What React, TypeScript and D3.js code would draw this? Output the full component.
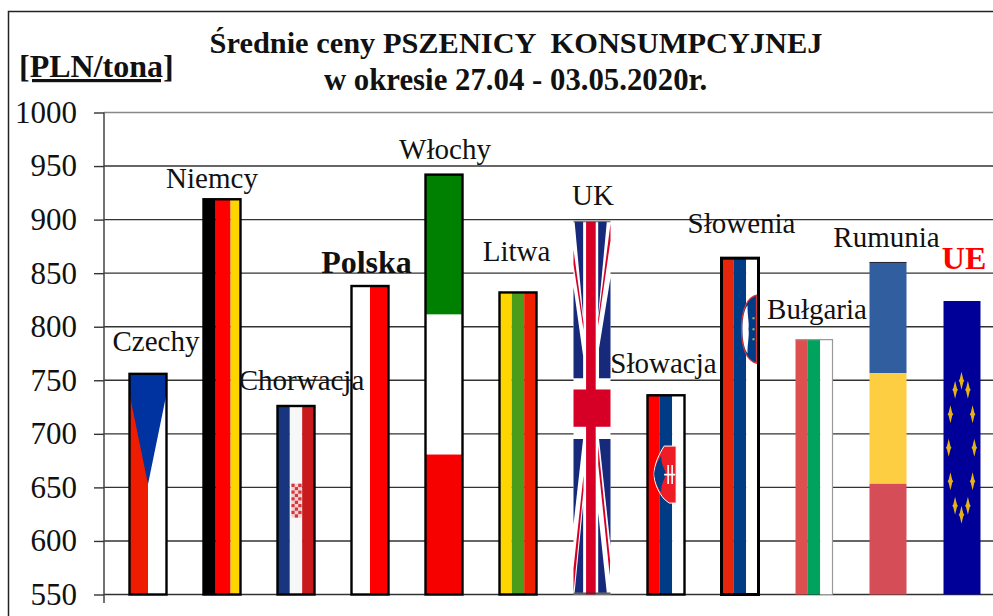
import * as d3 from "d3";
import { useEffect, useRef } from "react";

const countries = ["Czechy", "Niemcy", "Chorwacja", "Polska", "Włochy", "Litwa", "UK", "Słowacja", "Słowenia", "Bułgaria", "Rumunia", "UE"];
const prices = [756, 919, 726, 838, 942, 832, 898, 736, 864, 788, 860, 824];
const yTicks = [550, 600, 650, 700, 750, 800, 850, 900, 950, 1000];

// label placement relative to the top centre of each bar
const labelDx = [8, -10, 5.5, -3.5, 1, -1.5, 1, -2.5, 1.5, 3, -1.5, 2];
const labelDy = [-23, -11, -16, -13, -16, -31, -17, -22, -25, -21, -15, -32];

const stripes: Record<string, { dir: "v" | "h"; colors: string[]; weights?: number[] }> = {
  Czechy: { dir: "v", colors: ["#ee1c00", "#ffffff"] },
  Niemcy: { dir: "v", colors: ["#000000", "#ff0000", "#ffd500"], weights: [0.33, 0.4, 0.27] },
  Chorwacja: { dir: "v", colors: ["#17367f", "#f7f7f7", "#c8191c"] },
  Polska: { dir: "v", colors: ["#ffffff", "#ff0000"] },
  Włochy: { dir: "h", colors: ["#008000", "#ffffff", "#f60000"] },
  Litwa: { dir: "v", colors: ["#ffd500", "#4a9c1a", "#ee2000"] },
  Słowacja: { dir: "v", colors: ["#ff0000", "#003c85", "#ffffff"] },
  Słowenia: { dir: "v", colors: ["#e3260c", "#003c85", "#ffffff"] },
  Bułgaria: { dir: "v", colors: ["#de4f50", "#00a35e", "#ffffff"] },
  Rumunia: { dir: "h", colors: ["#315e9e", "#fdcd42", "#d44d57"] },
};

const outlined = ["Czechy", "Niemcy", "Chorwacja", "Polska", "Włochy", "Litwa", "Słowacja", "Słowenia"];

// Union Jack pieces as fractions of the bar (the picture is squeezed and skewed)
const jackBlue: [number, number][][] = [
  [[0.03, 0], [0.26, 0], [0.26, 0.25]],
  [[0, 0.175], [0.26, 0.36], [0.26, 0.42], [0, 0.42]],
  [[0.667, 0], [0.9, 0], [0.667, 0.25]],
  [[1, 0.15], [1, 0.42], [0.69, 0.42], [0.69, 0.34]],
  [[0, 0.583], [0.26, 0.583], [0, 0.812]],
  [[0.26, 0.76], [0.26, 0.995], [0.03, 0.995]],
  [[0.69, 0.583], [1, 0.583], [1, 0.87]],
  [[0.667, 0.78], [0.667, 0.995], [0.9, 0.995]],
];
const jackRed: [number, number][][] = [
  [[0, 0.075], [0, 0.115], [0.27, 0.29], [0.27, 0.27]],
  [[1, 0.005], [1, 0.05], [0.667, 0.28], [0.667, 0.26]],
  [[0.27, 0.68], [0.27, 0.72], [0, 0.995], [0, 0.93]],
  [[0.667, 0.6], [0.667, 0.65], [0.98, 0.95], [0.99, 0.91]],
];

const width = 993;
const height = 616;
const serif = "'Liberation Serif', serif";

const x = d3.scaleBand<string>().domain(countries).range([111, 999]).paddingInner(0.5).paddingOuter(0.25);
const y = d3.scaleLinear().domain([550, 1000]).range([594.5, 112.5]);

type Box = { x: number; y: number; w: number; h: number };

function Stripes({ name, b }: { name: string; b: Box }) {
  const s = stripes[name];
  if (!s) return null;
  const weights = s.weights ?? s.colors.map(() => 1 / s.colors.length);
  const edges = d3.cumsum(weights);
  return (
    <g>
      {s.colors.map((c, i) => {
        const a = i === 0 ? 0 : edges[i - 1];
        const w = weights[i];
        return s.dir === "v" ? (
          <rect key={c} x={b.x + a * b.w} y={b.y} width={w * b.w} height={b.h} fill={c} />
        ) : (
          <rect key={c} x={b.x} y={b.y + a * b.h} width={b.w} height={w * b.h} fill={c} />
        );
      })}
    </g>
  );
}

function CzechWedge({ b }: { b: Box }) {
  const line = d3.line();
  const pts: [number, number][] = [
    [b.x, b.y],
    [b.x + b.w, b.y],
    [b.x + b.w, b.y + 0.09 * b.h],
    [b.x + b.w / 2, b.y + 0.5 * b.h],
    [b.x, b.y + 0.09 * b.h],
  ];
  return <path d={line(pts) + "Z"} fill="#0033a0" />;
}

function CroatianCrest({ b }: { b: Box }) {
  const cell = 3.4;
  const x0 = b.x + b.w / 2 - 1.5 * cell + 0.5;
  const y0 = b.y + 0.412 * b.h;
  return (
    <g>
      {d3.range(10).map(r =>
        d3.range(3).map(c => (
          <rect key={r + "-" + c} x={x0 + c * cell} y={y0 + r * cell} width={cell} height={cell}
            fill={(r + c) % 2 === 0 ? "#d8343a" : "#f3d0d0"} />
        ))
      )}
    </g>
  );
}

function UnionJack({ b }: { b: Box }) {
  const line = d3.line<[number, number]>()
    .x(p => b.x + p[0] * b.w)
    .y(p => b.y + p[1] * b.h);
  return (
    <g>
      <rect x={b.x} y={b.y} width={b.w} height={b.h} fill="#fff" />
      {jackBlue.map((p, i) => <path key={i} d={line(p) + "Z"} fill="#17297b" />)}
      {jackRed.map((p, i) => <path key={i} d={line(p) + "Z"} fill="#d60027" />)}
      <rect x={b.x + 0.34 * b.w} y={b.y} width={0.26 * b.w} height={b.h} fill="#d60027" />
      <rect x={b.x} y={b.y + 0.45 * b.h} width={b.w} height={0.1 * b.h} fill="#d60027" />
      <rect x={b.x} y={b.y - 1} width={b.w} height={1.6} fill="#333" opacity={0.6} />
      <rect x={b.x} y={b.y + b.h - 2} width={b.w} height={2} fill="#333" opacity={0.8} />
    </g>
  );
}

function SlovakCrest({ b }: { b: Box }) {
  const px = b.x + 0.72 * b.w;
  const py = b.y + 0.255 * b.h;
  return (
    <g transform={`translate(${px},${py})`}>
      <path d="M2,0 H-10 C-15,8 -20,18 -20,28 C-20,38 -15,47 -10,53 L-5,57 H2 Z" fill="#ee1c25" stroke="#fff" strokeWidth={1} />
      <path d="M-20,28 C-19,20 -16,14 -13,10 C-13,18 -10,22 -8,28 C-10,34 -13,38 -13,46 C-16,42 -19,36 -20,28 Z" fill="#003c85" />
      <path d="M-10,28.5 H1 M-6,19 V38 M-2,19 V38" stroke="#fff" strokeWidth={1.6} fill="none" />
    </g>
  );
}

function SloveneCrest({ b }: { b: Box }) {
  const px = b.x + 0.54 * b.w;
  const py = b.y + 0.11 * b.h;
  return (
    <g transform={`translate(${px},${py})`}>
      <path d="M15,0 C6,2 0,14 0,34 C0,54 6,66 15,68 Z" fill="#003c85" stroke="#d8343a" strokeWidth={1.2} />
      <path d="M1,34 C1,22 3,14 6,10 C6,22 8,28 7,34 C8,40 6,48 6,58 C3,54 1,46 1,34 Z" fill="#fff" />
      <path d="M12,22 V24 M12,33 V35 M12,43 V45" stroke="#c9b84a" strokeWidth={2} />
    </g>
  );
}

function EuStars({ b }: { b: Box }) {
  const cx = b.x + b.w / 2 - 0.5;
  const cy = b.y + 0.5 * b.h;
  const star = "M0,-9 L1.8,-1.5 L2.8,0 L1.8,1.5 L0,9 L-1.8,1.5 L-2.8,0 L-1.8,-1.5 Z";
  return (
    <g>
      {d3.range(12).map(i => {
        const a = (i * Math.PI) / 6;
        return (
          <path key={i} d={star} fill="#e4b414"
            transform={`translate(${cx + 12.8 * Math.sin(a)},${cy - 67 * Math.cos(a)})`} />
        );
      })}
    </g>
  );
}

export default function App() {
  const axisRef = useRef<SVGGElement>(null);

  useEffect(() => {
    const g = d3.select(axisRef.current);
    g.selectAll("*").remove();
    const axis = d3.axisLeft(y).tickValues(yTicks).tickFormat(d3.format("d") as any)
      .tickSize(10).tickPadding(17).tickSizeOuter(0);
    g.call(axis as any);
    g.select(".domain").remove();
    g.selectAll(".tick line").attr("stroke", "#333").attr("stroke-width", 1.4);
    g.selectAll("text")
      .attr("font-family", serif)
      .attr("font-size", 31)
      .attr("fill", "#111");
  }, []);

  return (
    <svg width={width} height={height} style={{ position: "absolute", left: 0, top: 0, background: "#fff" }}>
      {/* frame of the pasted chart, cut off on the right and below */}
      <path d={`M8.5,${height} V11.5 H${width}`} fill="none" stroke="#222" strokeWidth={1.5} />

      {yTicks.map(t => (
        <line key={t} x1={104} x2={width} y1={y(t)} y2={y(t)}
          stroke={t === 1000 ? "#888" : "#333"} strokeWidth={1.4} />
      ))}
      <line x1={104} x2={104} y1={y(1000)} y2={603} stroke="#444" strokeWidth={1.5} />
      <g ref={axisRef} transform="translate(104,0)" />

      {countries.map((name, i) => {
        const b: Box = { x: x(name)!, y: y(prices[i]), w: x.bandwidth(), h: y(550) - y(prices[i]) };
        return (
          <g key={name}>
            <Stripes name={name} b={b} />
            {name === "Czechy" && <CzechWedge b={b} />}
            {name === "Chorwacja" && <CroatianCrest b={b} />}
            {name === "UK" && <UnionJack b={b} />}
            {name === "Słowacja" && <SlovakCrest b={b} />}
            {name === "Słowenia" && <SloveneCrest b={b} />}
            {name === "UE" && (
              <>
                <rect x={b.x} y={b.y} width={b.w} height={b.h} fill="#000099" />
                <EuStars b={b} />
              </>
            )}
            {outlined.includes(name) && (
              <rect x={b.x} y={b.y} width={b.w} height={b.h} fill="none" stroke="#000"
                strokeWidth={name === "Słowenia" ? 3 : 2.4} />
            )}
            {name === "Bułgaria" && (
              <path d={`M${b.x},${b.y} H${b.x + b.w} V${b.y + b.h}`} fill="none" stroke="#999" strokeWidth={1.2} />
            )}
            {name === "Rumunia" && (
              <line x1={b.x} x2={b.x + b.w} y1={b.y} y2={b.y} stroke="#223" strokeWidth={1} />
            )}
          </g>
        );
      })}

      {countries.map((name, i) => {
        const special = name === "Polska" || name === "UE";
        return (
          <text key={name}
            x={x(name)! + x.bandwidth() / 2 + labelDx[i]}
            y={y(prices[i]) + labelDy[i]}
            textAnchor="middle"
            fontFamily={serif}
            fontSize={special ? 32 : 29}
            fontWeight={special ? "bold" : "normal"}
            fill={name === "UE" ? "#ff0000" : "#111"}>
            {name}
          </text>
        );
      })}

      <g fontFamily={serif} fontWeight="bold" fill="#111">
        <text x={516} y={53} textAnchor="middle" fontSize={30.4} style={{ whiteSpace: "pre" }}>
          Średnie ceny PSZENICY  KONSUMPCYJNEJ
        </text>
        <text x={515.5} y={90} textAnchor="middle" fontSize={30.8}>
          w okresie 27.04 - 03.05.2020r.
        </text>
        <text x={19} y={77} fontSize={32} textDecoration="underline">
          [PLN/tona]
        </text>
      </g>
    </svg>
  );
}
